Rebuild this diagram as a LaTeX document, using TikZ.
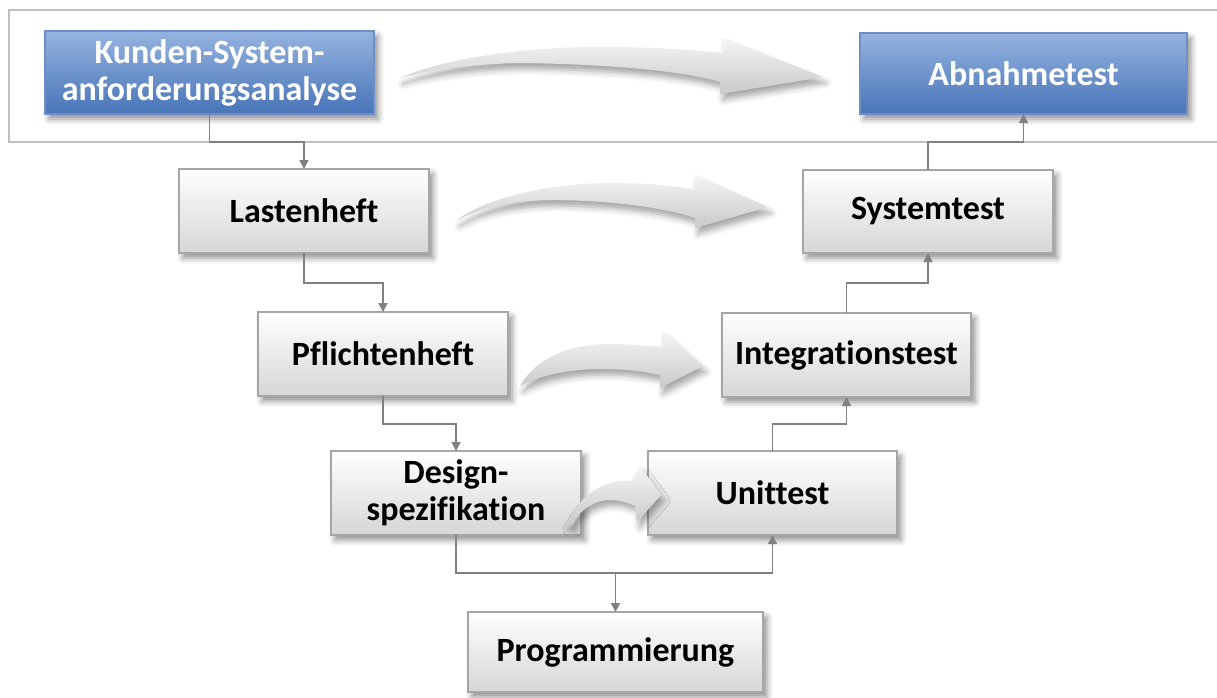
\documentclass[tikz,border=0pt]{standalone}
\usepackage{fontspec}
\setmainfont[Ligatures=NoCommon]{Carlito}
\usetikzlibrary{arrows.meta,shadows.blur}
\definecolor{boxline}{HTML}{A6A6A6}
\definecolor{graybot}{HTML}{D6D6D6}
\definecolor{bluetop}{HTML}{95B3DF}
\definecolor{bluebot}{HTML}{4874B8}
\definecolor{blueline}{HTML}{6F8FC4}
\definecolor{connc}{HTML}{808080}
\definecolor{framec}{HTML}{C0C0C0}
\begin{document}
\begin{tikzpicture}[x=1pt,y=-1pt,
  box/.style={draw=boxline, line width=1.2pt, inner sep=0pt, outer sep=0pt,
    align=center, font=\fontsize{34}{37}\selectfont\bfseries,
    blur shadow={shadow xshift=4pt, shadow yshift=-5pt,
      shadow blur radius=6pt, shadow opacity=45}},
  gbox/.style={box, top color=white, bottom color=graybot, text=black},
  bbox/.style={box, draw=blueline, top color=bluetop, bottom color=bluebot,
    text=white},
  conn/.style={draw=connc, line width=1.5pt,
    -{Triangle[length=9pt,width=9pt]}},
  bigarrow/.style={top color=gray!8, bottom color=gray!42,
    blur shadow={shadow xshift=3pt, shadow yshift=-6pt,
      shadow blur radius=6pt, shadow opacity=35}}
]
\useasboundingbox (0,0) rectangle (1217,697);

% frame around the customer level
\draw[framec, line width=1.5pt] (1217,10) -- (9,10) -- (9,142) -- (1217,142);

% boxes
\node[bbox, minimum width=329pt, minimum height=83pt] (kunden) at (209.5,72.5)
  {Kunden-System-\\anforderungsanalyse};
\node[bbox, minimum width=327pt, minimum height=81pt] (abnahme) at (1023.5,73.5)
  {Abnahmetest};
\node[gbox, minimum width=250pt, minimum height=84pt] (lasten) at (304,211)
  {Lastenheft};
\node[gbox, minimum width=250pt, minimum height=84pt] (pflicht) at (383,354)
  {Pflichtenheft};
\node[gbox, minimum width=250pt, minimum height=84pt] (design) at (456,493)
  {Design-\\spezifikation};
\node[gbox, minimum width=295pt, minimum height=80pt] (prog) at (615.5,652)
  {Programmierung};
\node[gbox, minimum width=249pt, minimum height=84pt] (unit) at (772.5,493)
  {Unittest};
\node[gbox, minimum width=249pt, minimum height=84pt] (integ) at (846.5,355)
  {Integrationstest};
\node[gbox, minimum width=250pt, minimum height=83pt] (system) at (928,211.5)
  {Systemtest};

% left branch (down)
\draw[conn] (kunden.south) -- ++(0,28) -| (lasten.north);
\draw[conn] (lasten.south) -- ++(0,30) -| (pflicht.north);
\draw[conn] (pflicht.south) -- ++(0,28) -| (design.north);
\draw[conn] (design.south) -- ++(0,38) coordinate (j) -| (unit.south);
\draw[conn] (j -| prog.north) -- (prog.north);

% right branch (up)
\draw[conn] (unit.north) -- ++(0,-27) -| (integ.south);
\draw[conn] (integ.north) -- ++(0,-30) -| (system.south);
\draw[conn] (system.north) -- ++(0,-28) -| (abnahme.south);

% curved gray arrows between the levels
\path[bigarrow] (400,78) .. controls (450,55) and (550,45) .. (620,47)
  .. controls (670,48) and (700,51) .. (723,53) -- (723,38) -- (823,77)
  -- (720,94) -- (720,82) .. controls (680,70) and (600,64) .. (520,63)
  .. controls (470,64) and (430,70) .. (400,78) -- cycle;
\path[bigarrow] (457,220) .. controls (490,195) and (560,182) .. (620,183)
  .. controls (660,184) and (680,187) .. (695,190) -- (695,175) -- (768,207)
  -- (695,228) -- (695,218) .. controls (660,206) and (600,200) .. (550,200)
  .. controls (510,201) and (480,208) .. (457,220) -- cycle;
\path[bigarrow] (520,386) .. controls (535,360) and (565,345) .. (605,344)
  .. controls (630,344) and (650,346) .. (663,347) -- (663,332) -- (703,366)
  -- (660,388) -- (660,375) .. controls (620,366) and (560,365) .. (520,386)
  -- cycle;
\path[bigarrow] (566,524) .. controls (580,495) and (605,478) .. (632,481)
  -- (640,466) -- (661,495) -- (637,522) -- (635,506)
  .. controls (610,494) and (585,500) .. (572,525) -- cycle;
\end{tikzpicture}
\end{document}
